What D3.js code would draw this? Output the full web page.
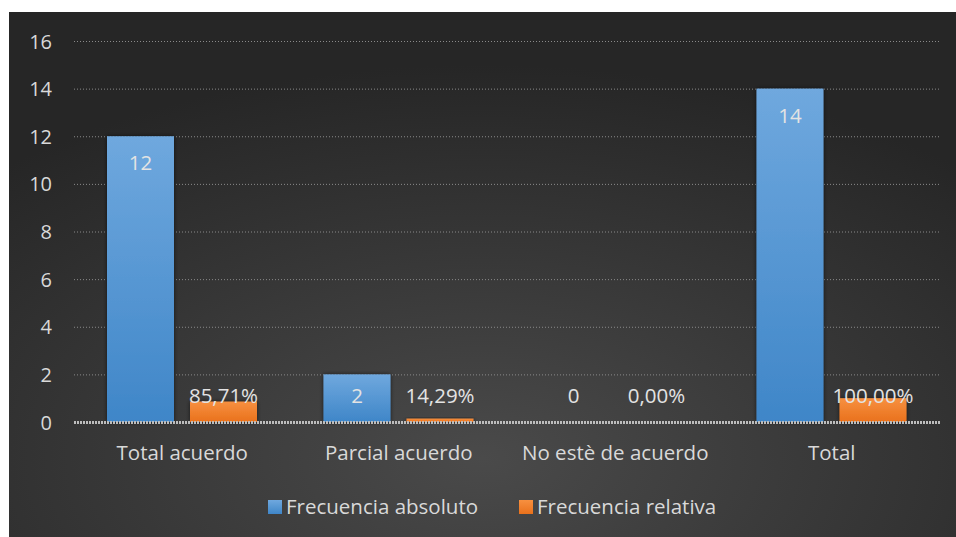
<!DOCTYPE html>
<html><head><meta charset="utf-8">
<script src="https://cdn.jsdelivr.net/npm/d3@7"></script>
<style>body{margin:0;background:#fff;}svg{display:block;}</style>
</head><body>
<svg id="chart" width="956" height="537"></svg>
<script>
const categories = ["Total acuerdo", "Parcial acuerdo", "No estè de acuerdo", "Total"];
const absoluto = [12, 2, 0, 14];
const relativo = [0.8571, 0.1429, 0, 1.0];
const relativoLabels = ["85,71%", "14,29%", "0,00%", "100,00%"];
const seriesNames = ["Frecuencia absoluto", "Frecuencia relativa"];
const yTicks = [0, 2, 4, 6, 8, 10, 12, 14, 16];

(function(){
const svg = d3.select("#chart");
const W = 956, H = 537;
const defs = svg.append("defs");
const bg = defs.append("radialGradient").attr("id","bg").attr("cx","0.5").attr("cy","0.85").attr("r","0.75");
bg.append("stop").attr("offset","0").attr("stop-color","#4a4a4a");
bg.append("stop").attr("offset","1").attr("stop-color","#262626");
const gb = defs.append("linearGradient").attr("id","gb").attr("x1",0).attr("y1",0).attr("x2",0).attr("y2",1);
gb.append("stop").attr("offset","0").attr("stop-color","#6fa8de");
gb.append("stop").attr("offset","1").attr("stop-color","#3f86c8");
const go = defs.append("linearGradient").attr("id","go").attr("x1",0).attr("y1",0).attr("x2",0).attr("y2",1);
go.append("stop").attr("offset","0").attr("stop-color","#f79040");
go.append("stop").attr("offset","1").attr("stop-color","#e9711c");
const sh = defs.append("filter").attr("id","sh").attr("x","-20%").attr("y","-20%").attr("width","140%").attr("height","140%");
sh.append("feDropShadow").attr("dx",0).attr("dy",0).attr("stdDeviation",2).attr("flood-color","#000").attr("flood-opacity",0.6);

svg.append("rect").attr("x",9).attr("y",12).attr("width",W-9).attr("height",H-12).attr("fill","url(#bg)");

const pl = 74, pr = 940, pt = 41, pb = 422;
const x0 = d3.scaleBand().domain(categories).range([pl, pr]).paddingInner(0).paddingOuter(0);
const x1 = d3.scaleBand().domain([0,1]).range([33, 183]).paddingInner(0.193).paddingOuter(0);
const y = d3.scaleLinear().domain([0, 16]).range([pb, pt]);

const grid = svg.append("g");
grid.selectAll("line").data(yTicks.filter(d=>d>0)).join("line")
  .attr("x1", pl).attr("x2", pr).attr("y1", d=>y(d)+0.5).attr("y2", d=>y(d)+0.5)
  .attr("stroke","#8a8a8a").attr("stroke-width",1).attr("stroke-dasharray","1,2");

const lblFont = "'Open Sans', sans-serif";
const yAxis = d3.axisLeft(y).tickValues(yTicks).tickSize(0).tickPadding(0);
const ya = svg.append("g").attr("transform",`translate(52,0)`).call(yAxis);
ya.select(".domain").remove();
ya.selectAll("text").attr("fill","#d9d9d9").style("font-family",lblFont).style("font-size","20px").attr("dy","0.35em");

const groups = svg.append("g").selectAll("g").data(categories).join("g")
  .attr("transform", d=>`translate(${x0(d)},0)`);
groups.append("rect").attr("x", x1(0)).attr("width", x1.bandwidth())
  .attr("y", (d,i)=>y(absoluto[i])).attr("height",(d,i)=>pb-y(absoluto[i]))
  .attr("fill","url(#gb)").attr("filter","url(#sh)");
groups.append("rect").attr("x", x1(1)).attr("width", x1.bandwidth())
  .attr("y", (d,i)=>y(relativo[i])).attr("height",(d,i)=>pb-y(relativo[i]))
  .attr("fill","url(#go)").attr("filter","url(#sh)");

svg.append("line").attr("x1",pl).attr("x2",pr).attr("y1",pb+0.5).attr("y2",pb+0.5)
  .attr("stroke","#bdbdbd").attr("stroke-width",3).attr("stroke-dasharray","2,1");

groups.append("text").attr("x", x1(0)+x1.bandwidth()/2)
  .attr("y",(d,i)=>Math.min(y(absoluto[i])+27, pb-26)).attr("dy","0.35em")
  .attr("text-anchor","middle").attr("fill","#e3e3e3").style("font-family",lblFont).style("font-size","20.5px")
  .text((d,i)=>absoluto[i]);
groups.append("text").attr("x", x1(1)+x1.bandwidth()/2)
  .attr("y",(d,i)=>Math.min(y(relativo[i])+27, pb-26)).attr("dy","0.35em")
  .attr("text-anchor","middle").attr("fill","#e3e3e3").style("font-family",lblFont).style("font-size","20.5px")
  .text((d,i)=>relativoLabels[i]);

const xAxis = d3.axisBottom(x0).tickSize(0).tickPadding(0);
const xa = svg.append("g").attr("transform",`translate(0,${pb})`).call(xAxis);
xa.select(".domain").remove();
xa.selectAll("text").attr("fill","#d9d9d9").style("font-family",lblFont).style("font-size","20.5px").attr("y",31).attr("dy","0.35em");

const leg = svg.append("g");
const legItems = [{n:seriesNames[0], c:"url(#gb)", x:268},{n:seriesNames[1], c:"url(#go)", x:519}];
legItems.forEach(it=>{
  leg.append("rect").attr("x",it.x).attr("y",500).attr("width",14).attr("height",14).attr("fill",it.c);
  leg.append("text").attr("x",it.x+18).attr("y",507).attr("dy","0.35em").attr("fill","#d9d9d9")
    .style("font-family",lblFont).style("font-size","20.5px").text(it.n);
});
})();
</script>
</body></html>
